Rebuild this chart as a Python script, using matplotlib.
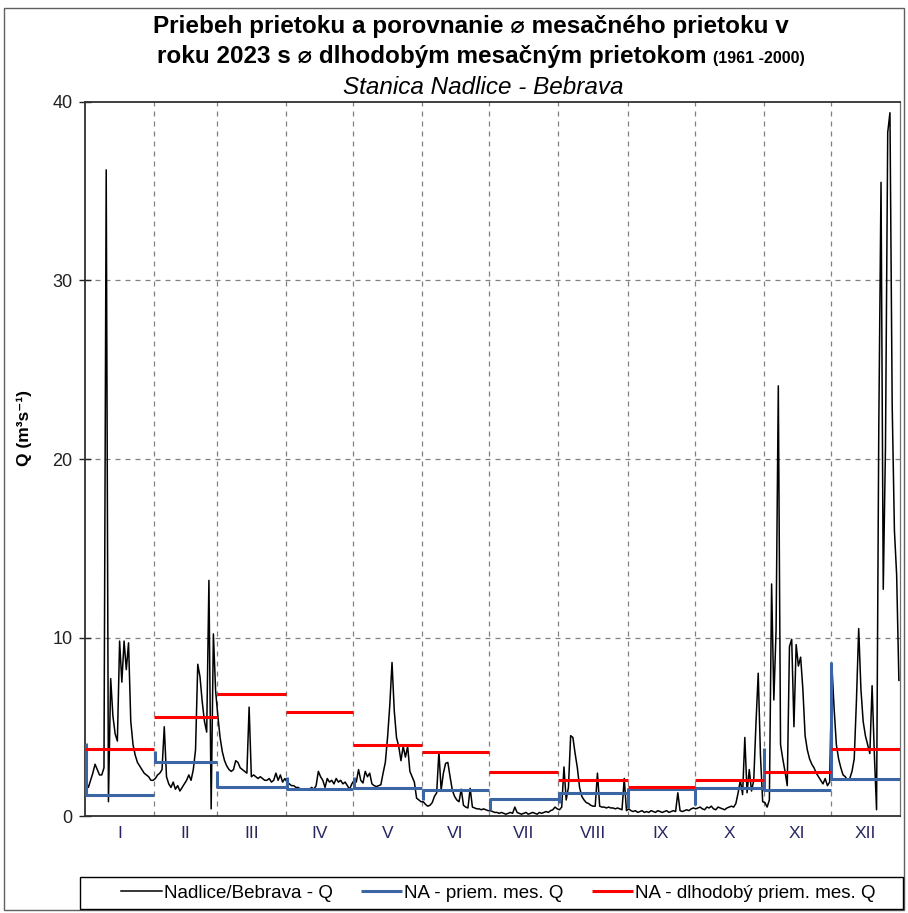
import matplotlib
matplotlib.use('Agg')
import matplotlib.pyplot as plt
import numpy as np
from matplotlib.patches import Rectangle

# daily discharge 2023, Nadlice - Bebrava
q_jan = [1.9, 1.6, 2.0, 2.4, 2.9, 2.6, 2.3, 2.3, 2.7, 36.2, 0.8, 7.7, 5.6, 4.6, 4.2, 9.8, 7.5, 9.8, 8.2, 9.7,
         5.3, 4.0, 3.4, 3.0, 2.8, 2.6, 2.4, 2.3, 2.2, 2.0, 2.0]
q_feb = [2.1, 2.3, 2.4, 2.6, 5.0, 2.2, 1.8, 1.6, 1.9, 1.5, 1.7, 1.4, 1.6, 1.8, 2.0, 2.3, 2.0, 2.6, 3.7, 8.5,
         7.8, 6.4, 5.3, 4.7, 13.2, 0.4, 10.2, 7.0]
q_mar = [5.6, 4.4, 3.6, 3.1, 2.8, 2.6, 2.5, 2.6, 3.1, 3.0, 2.7, 2.6, 2.5, 2.4, 6.1, 2.2, 2.3, 2.2, 2.1, 2.2,
         2.1, 2.0, 2.0, 2.1, 1.9, 2.0, 2.4, 2.0, 2.3, 1.9, 2.1]
q_apr = [1.9, 1.8, 1.7, 1.7, 1.6, 1.6, 1.5, 1.5, 1.5, 1.45, 1.5, 1.6, 1.5, 1.7, 2.5, 2.2, 2.0, 1.6, 2.1, 1.9,
         2.0, 1.8, 2.1, 1.9, 2.0, 1.8, 1.9, 1.7, 1.5, 1.8]
q_may = [2.0, 1.9, 2.6, 2.0, 1.85, 2.5, 2.2, 2.4, 1.8, 1.7, 1.65, 1.7, 1.75, 2.4, 3.0, 4.4, 6.2, 8.6, 5.9, 4.4,
         3.9, 3.1, 3.9, 3.3, 3.9, 2.5, 2.2, 1.9, 1.0, 0.9, 0.8]
q_jun = [0.8, 0.65, 0.55, 0.6, 0.75, 1.1, 1.3, 3.6, 1.45, 2.4, 2.95, 3.0, 2.2, 1.45, 1.1, 0.9, 0.8, 1.5, 0.6, 0.5,
         0.45, 1.55, 0.5, 0.45, 0.4, 0.4, 0.35, 0.4, 0.35, 0.3]
q_jul = [0.3, 0.25, 0.2, 0.2, 0.15, 0.2, 0.15, 0.1, 0.15, 0.2, 0.15, 0.5, 0.2, 0.15, 0.1, 0.15, 0.2, 0.1, 0.15, 0.2,
         0.15, 0.1, 0.2, 0.15, 0.2, 0.25, 0.2, 0.3, 0.35, 0.5, 0.4]
q_aug = [0.35, 0.5, 2.75, 0.9, 1.6, 4.5, 4.4, 3.5, 2.7, 1.6, 1.1, 0.9, 0.75, 0.7, 0.6, 0.55, 0.55, 2.4, 0.55, 0.5,
         0.5, 0.45, 0.5, 0.45, 0.45, 0.4, 0.45, 0.4, 0.35, 2.1, 0.3]
q_sep = [0.4, 0.3, 0.25, 0.3, 0.2, 0.25, 0.3, 0.2, 0.25, 0.2, 0.3, 0.25, 0.2, 0.3, 0.25, 0.2, 0.25, 0.3, 0.2, 0.25,
         0.3, 0.25, 1.3, 0.3, 0.25, 0.3, 0.35, 0.3, 0.4, 0.45]
q_oct = [0.4, 0.45, 0.5, 0.4, 0.35, 0.5, 0.45, 0.55, 0.4, 0.35, 0.5, 0.45, 0.4, 0.35, 0.45, 0.5, 0.55, 0.5, 0.7, 1.3,
         2.0, 1.2, 4.4, 1.3, 2.6, 1.4, 2.0, 5.2, 8.0, 3.4, 0.8]
q_nov = [0.75, 0.5, 0.9, 13.0, 6.5, 10.4, 24.1, 4.0, 3.2, 2.5, 1.7, 9.5, 9.9, 5.0, 9.6, 8.4, 8.9, 7.1, 4.5, 3.7,
         3.2, 2.9, 2.7, 2.4, 2.2, 2.0, 1.8, 2.1, 1.7, 1.9]
q_dec = [8.4, 6.0, 4.0, 3.2, 2.7, 2.3, 2.2, 2.0, 2.1, 2.5, 3.2, 6.5, 10.5, 7.1, 5.3, 4.5, 4.0, 3.5, 7.3, 3.5,
         0.35, 21.8, 35.5, 12.7, 20.7, 38.3, 39.4, 23.0, 16.0, 13.5, 7.6]

months = ['I', 'II', 'III', 'IV', 'V', 'VI', 'VII', 'VIII', 'IX', 'X', 'XI', 'XII']
# monthly mean 2023 and the value where each month's step starts
mean_2023 = [1.17, 3.0, 1.65, 1.5, 1.57, 1.45, 0.95, 1.3, 1.5, 1.56, 1.45, 2.07]
step_start = [4.1, 3.66, 2.5, 2.2, 2.2, 0.9, 0.33, 0.75, 0.43, 0.6, 3.8, 8.65]
# long-term monthly mean 1961-2000
mean_longterm = [3.75, 5.55, 6.85, 5.8, 3.96, 3.59, 2.45, 2.02, 1.65, 2.0, 2.48, 3.75]

if __name__ == '__main__':
    plt.rcParams['font.family'] = ['Liberation Sans', 'DejaVu Sans']

    daily = [q_jan, q_feb, q_mar, q_apr, q_may, q_jun, q_jul, q_aug, q_sep, q_oct, q_nov, q_dec]
    month_len = [len(m) for m in daily]
    edges = np.concatenate([[0], np.cumsum(month_len)])
    q_all = np.concatenate(daily)
    days = np.arange(len(q_all)) + 0.5

    fig = plt.figure(figsize=(9.08, 9.13), dpi=100)
    fig.add_artist(Rectangle((0.004, 0.003), 0.992, 0.988, transform=fig.transFigure,
                             fill=False, edgecolor='#606060', linewidth=1.0))
    ax = fig.add_axes([85 / 908, 1 - 816 / 913, 815 / 908, 714 / 913])

    ax.plot(days, q_all, color='black', linewidth=1.1, label='Nadlice/Bebrava - Q', zorder=3)

    blue = '#3b66a3'
    for i in range(12):
        s, e = edges[i], edges[i + 1]
        ax.plot([s + 0.3, s + 0.3, e], [step_start[i], mean_2023[i], mean_2023[i]], color=blue,
                linewidth=2.2, solid_capstyle='butt', zorder=4,
                label='NA - priem. mes. Q' if i == 0 else None)
    for i in range(12):
        s, e = edges[i], edges[i + 1]
        ax.plot([s, e], [mean_longterm[i], mean_longterm[i]], color='#ff0000', linewidth=2.2,
                solid_capstyle='butt', zorder=5,
                label='NA - dlhodobý priem. mes. Q' if i == 0 else None)

    ax.set_xlim(0, edges[-1])
    ax.set_ylim(0, 40)

    # grid
    for b in edges[1:-1]:
        ax.axvline(b, color='#808080', linewidth=0.9, linestyle=(0, (4, 4)), zorder=1)
    for y in [10, 20, 30]:
        ax.axhline(y, color='#808080', linewidth=0.9, linestyle=(0, (4, 4)), zorder=1)

    ax.set_xticks(edges)
    ax.set_xticklabels([])
    ax.tick_params(axis='x', which='major', length=0)
    centers = (edges[:-1] + edges[1:]) / 2
    ax.set_xticks(centers, minor=True)
    ax.set_xticklabels(months, minor=True, fontsize=12.5, color='#262660')
    ax.tick_params(axis='x', which='minor', length=0, pad=7)

    ax.set_yticks([0, 10, 20, 30, 40])
    ax.tick_params(axis='y', direction='inout', length=8, width=1, labelsize=13, pad=5, colors='#222222')
    ax.set_ylabel('Q (m³s⁻¹)', fontsize=12.5, fontweight='bold', labelpad=12)
    ax.yaxis.set_label_coords(-0.065, (816 - 428) / 714)

    for side in ['left', 'bottom', 'top']:
        ax.spines[side].set_color('#303030')
        ax.spines[side].set_linewidth(1.3)
    ax.spines['right'].set_color('#707070')
    ax.spines['right'].set_linewidth(0.9)

    # title
    fig.text(471 / 908, 1 - 26 / 913, 'Priebeh prietoku a porovnanie ⌀ mesačného prietoku v',
             ha='center', va='center', fontsize=17.5, fontweight='bold')
    renderer = fig.canvas.get_renderer()
    line2 = fig.text(0, 1 - 57 / 913, 'roku 2023 s ⌀ dlhodobým mesačným prietokom',
                     ha='left', va='center', fontsize=17.5, fontweight='bold')
    years = fig.text(0, 1 - 59 / 913, '(1961 -2000)', ha='left', va='center',
                     fontsize=11.5, fontweight='bold')
    w_main = line2.get_window_extent(renderer=renderer).width
    w_years = years.get_window_extent(renderer=renderer).width
    x0 = 481 - (w_main + 6 + w_years) / 2
    line2.set_x(x0 / 908)
    years.set_x((x0 + w_main + 6) / 908)
    fig.text(483 / 908, 1 - 87 / 913, 'Stanica Nadlice - Bebrava', ha='center', va='center',
             fontsize=17.5, style='italic')

    # legend: frameless entries, box drawn separately
    fig.add_artist(Rectangle((80 / 908, 1 - 909 / 913), 823 / 908, 32 / 913, transform=fig.transFigure,
                             fill=False, edgecolor='black', linewidth=1.0))
    fig.legend(loc='center', bbox_to_anchor=(498 / 908, 1 - 893 / 913), ncol=3, fontsize=13.5,
               frameon=False, handlelength=2.2, handletextpad=0.1, columnspacing=1.5)

    plt.savefig('out.png', dpi=100)
    plt.close('all')
